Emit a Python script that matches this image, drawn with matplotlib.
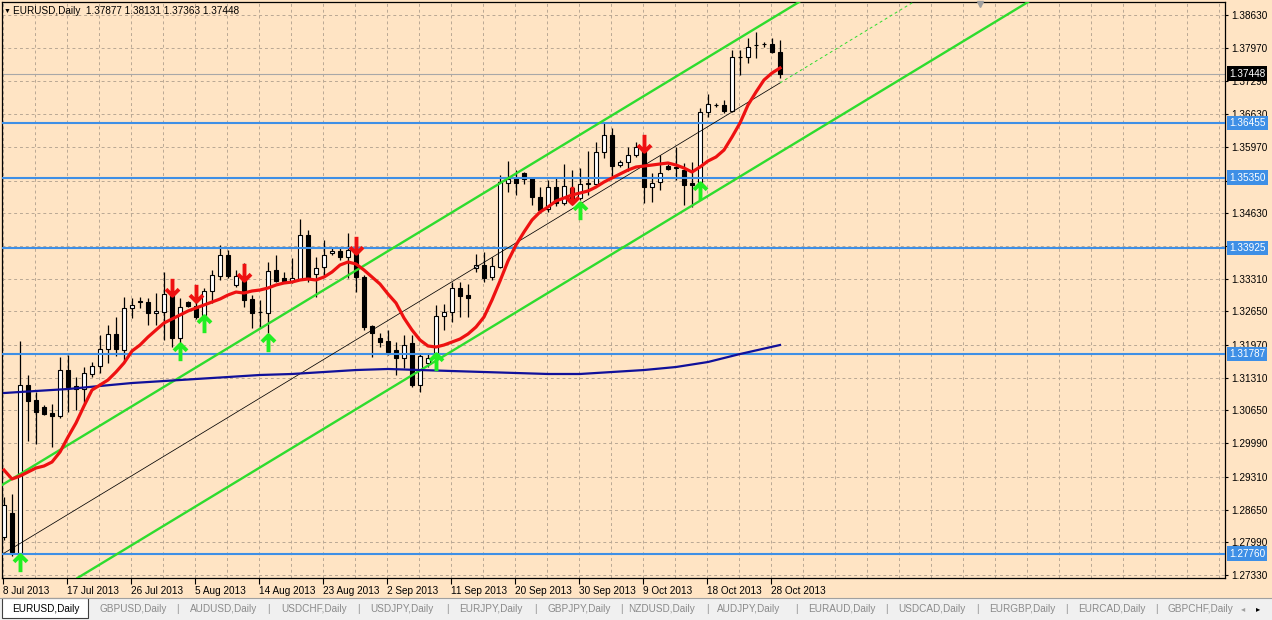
import matplotlib
matplotlib.use('Agg')
import matplotlib.pyplot as plt
import matplotlib.transforms as mtrans
from matplotlib.path import Path
from matplotlib.patches import Rectangle
from matplotlib.lines import Line2D
import numpy as np

plt.rcParams['font.family'] = ['Liberation Sans', 'DejaVu Sans']

# ---------------- data ----------------
symbol = 'EURUSD,Daily'
date_labels = ['8 Jul 2013', '17 Jul 2013', '26 Jul 2013', '5 Aug 2013', '14 Aug 2013',
               '23 Aug 2013', '2 Sep 2013', '11 Sep 2013', '20 Sep 2013', '30 Sep 2013',
               '9 Oct 2013', '18 Oct 2013', '28 Oct 2013']
date_label_bars = [0, 8, 16, 24, 32, 40, 48, 56, 64, 72, 80, 88, 96]

opens = [1.28096, 1.28581, 1.27774, 1.31164, 1.30861, 1.30720, 1.30599, 1.30538, 1.31467, 1.31144,
         1.31083, 1.31386, 1.31547, 1.31890, 1.32193, 1.31870, 1.32718, 1.32839, 1.32839, 1.32617,
         1.32637, 1.32980, 1.32112, 1.32839, 1.32758, 1.32576, 1.33061, 1.33363, 1.33787, 1.33182,
         1.33303, 1.32899, 1.32637, 1.32617, 1.33485, 1.33323, 1.33263, 1.33303, 1.34191, 1.33404,
         1.33545, 1.33828, 1.33868, 1.33747, 1.33888, 1.33343, 1.32354, 1.32112, 1.32052, 1.31870,
         1.31709, 1.32011, 1.31164, 1.31608, 1.31709, 1.32556, 1.32637, 1.33121, 1.32980, 1.33525,
         1.33585, 1.33343, 1.33545, 1.35240, 1.35341, 1.35442, 1.35341, 1.34958, 1.34715, 1.35159,
         1.34836, 1.35139, 1.34937, 1.35220, 1.35220, 1.35866, 1.36209, 1.35603, 1.35664, 1.35805,
         1.35906, 1.35159, 1.35260, 1.35583, 1.35563, 1.35502, 1.35240, 1.35200, 1.36673, 1.36814,
         1.36814, 1.36693, 1.37783, 1.37783, 1.38025, 1.38045, 1.38045, 1.37877]
highs = [1.28904, 1.28964, 1.32052, 1.31365, 1.31022, 1.30760, 1.30780, 1.31729, 1.31769, 1.31325,
         1.31527, 1.31628, 1.32173, 1.32375, 1.32536, 1.32940, 1.32920, 1.32940, 1.32920, 1.33020,
         1.33444, 1.33283, 1.32920, 1.32859, 1.32940, 1.33121, 1.33485, 1.33989, 1.33888, 1.33485,
         1.33626, 1.32980, 1.32879, 1.33646, 1.33787, 1.33444, 1.33727, 1.34514, 1.34292, 1.33747,
         1.34090, 1.33928, 1.33949, 1.34231, 1.34130, 1.33384, 1.32375, 1.32213, 1.32274, 1.32032,
         1.32173, 1.32173, 1.31810, 1.31810, 1.32778, 1.32798, 1.33242, 1.33242, 1.33202, 1.33807,
         1.33848, 1.33747, 1.35402, 1.35684, 1.35502, 1.35462, 1.35361, 1.35159, 1.35301, 1.35341,
         1.35623, 1.35502, 1.35543, 1.35886, 1.36068, 1.36451, 1.36350, 1.35704, 1.35967, 1.36068,
         1.36068, 1.35442, 1.35805, 1.35623, 1.35967, 1.35644, 1.35664, 1.36754, 1.37036, 1.36854,
         1.36915, 1.37924, 1.37924, 1.38166, 1.38287, 1.38085, 1.38166, 1.38131]
lows = [1.28036, 1.27713, 1.27733, 1.30034, 1.29973, 1.30558, 1.29913, 1.30498, 1.30619, 1.30659,
        1.30801, 1.31325, 1.31406, 1.31608, 1.31749, 1.31628, 1.32516, 1.32718, 1.32375, 1.32375,
        1.32072, 1.31931, 1.31991, 1.32738, 1.32496, 1.32516, 1.32819, 1.33283, 1.33323, 1.33141,
        1.32738, 1.32314, 1.32314, 1.32213, 1.33242, 1.33242, 1.33222, 1.33283, 1.33242, 1.32940,
        1.33343, 1.33787, 1.33686, 1.33323, 1.33040, 1.32274, 1.31729, 1.31931, 1.31769, 1.31365,
        1.31507, 1.31124, 1.31022, 1.31527, 1.31608, 1.32274, 1.32435, 1.32536, 1.32536, 1.33444,
        1.33242, 1.33283, 1.33525, 1.35059, 1.34998, 1.35220, 1.34796, 1.34635, 1.34655, 1.34776,
        1.34796, 1.34796, 1.34897, 1.34998, 1.35200, 1.35745, 1.35361, 1.35563, 1.35482, 1.35765,
        1.34836, 1.34857, 1.35099, 1.35502, 1.35301, 1.34796, 1.34756, 1.35159, 1.36572, 1.36774,
        1.36653, 1.36673, 1.37420, 1.37662, 1.37763, 1.37985, 1.37863, 1.37363]
closes = [1.28742, 1.27794, 1.31164, 1.30841, 1.30619, 1.30579, 1.30538, 1.31467, 1.31124, 1.31083,
          1.31406, 1.31547, 1.31890, 1.32193, 1.31890, 1.32718, 1.32778, 1.32859, 1.32617, 1.32657,
          1.33000, 1.32112, 1.32738, 1.32758, 1.32536, 1.33061, 1.33384, 1.33787, 1.33363, 1.33363,
          1.32879, 1.32617, 1.32637, 1.33464, 1.33263, 1.33263, 1.33323, 1.34191, 1.33303, 1.33525,
          1.33787, 1.33868, 1.33747, 1.33888, 1.33343, 1.32334, 1.32213, 1.32032, 1.31830, 1.31709,
          1.31971, 1.31164, 1.31749, 1.31709, 1.32556, 1.32637, 1.33121, 1.32960, 1.32920, 1.33585,
          1.33323, 1.33565, 1.35260, 1.35321, 1.35240, 1.35321, 1.34958, 1.34695, 1.35159, 1.34836,
          1.35180, 1.34897, 1.35220, 1.35240, 1.35866, 1.36209, 1.35583, 1.35664, 1.35805, 1.35967,
          1.35159, 1.35240, 1.35442, 1.35522, 1.35543, 1.35200, 1.35200, 1.36673, 1.36834, 1.36814,
          1.36693, 1.37783, 1.37783, 1.37985, 1.38025, 1.38045, 1.37884, 1.37448]

ma_fast = [1.29448, 1.29267, 1.29327, 1.29408, 1.29489, 1.29529, 1.29610, 1.29812, 1.30114, 1.30397,
           1.30740, 1.31063, 1.31164, 1.31265, 1.31426, 1.31608, 1.31850, 1.31971, 1.32132, 1.32274,
           1.32415, 1.32496, 1.32576, 1.32657, 1.32718, 1.32778, 1.32839, 1.32899, 1.32980, 1.33040,
           1.33020, 1.33061, 1.33081, 1.33121, 1.33182, 1.33222, 1.33242, 1.33283, 1.33303, 1.33283,
           1.33343, 1.33444, 1.33585, 1.33646, 1.33606, 1.33484, 1.33343, 1.33202, 1.33000, 1.32819,
           1.32516, 1.32274, 1.32072, 1.31951, 1.31931, 1.31971, 1.32031, 1.32092, 1.32193, 1.32334,
           1.32536, 1.32879, 1.33262, 1.33666, 1.33989, 1.34251, 1.34493, 1.34655, 1.34756, 1.34877,
           1.34937, 1.34998, 1.35038, 1.35079, 1.35159, 1.35260, 1.35341, 1.35422, 1.35502, 1.35563,
           1.35583, 1.35603, 1.35624, 1.35644, 1.35603, 1.35543, 1.35462, 1.35563, 1.35684, 1.35765,
           1.35906, 1.36168, 1.36451, 1.36814, 1.37076, 1.37319, 1.37460, 1.37561]

ma_slow_bars = [0, 4, 8, 12, 16, 20, 24, 28, 32, 36, 40, 44, 48, 52, 56, 60, 64, 68, 72, 76,
                80, 84, 88, 92, 97]
ma_slow = [1.31002, 1.31043, 1.31083, 1.31144, 1.31204, 1.31244, 1.31285, 1.31325, 1.31366, 1.31386,
           1.31426, 1.31466, 1.31487, 1.31466, 1.31446, 1.31426, 1.31406, 1.31386, 1.31386, 1.31426,
           1.31466, 1.31527, 1.31628, 1.31789, 1.31971]

levels = [1.36455, 1.35350, 1.33925, 1.31787, 1.27760]
bid = 1.37448

channel_bars = [0, 97]
channel_mid = [1.2777, 1.3726]
channel_half_width = 0.0140

sell_bars = [21, 24, 30, 44, 71, 80]
sell_prices = [1.33141, 1.33020, 1.33444, 1.33989, 1.35002, 1.36047]
buy_bars = [2, 22, 25, 33, 54, 72, 87]
buy_prices = [1.27572, 1.31830, 1.32395, 1.32011, 1.31628, 1.34675, 1.35079]

y_ticks = [1.38630, 1.37970, 1.37290, 1.36630, 1.35970, 1.35290, 1.34630, 1.33970, 1.33310,
           1.32650, 1.31970, 1.31310, 1.30650, 1.29990, 1.29310, 1.28650, 1.27990, 1.27330]
y_ticks_hidden = [1.35290, 1.33970]

tab_names = ['EURUSD,Daily', 'GBPUSD,Daily', 'AUDUSD,Daily', 'USDCHF,Daily', 'USDJPY,Daily',
             'EURJPY,Daily', 'GBPJPY,Daily', 'NZDUSD,Daily', 'AUDJPY,Daily', 'EURAUD,Daily',
             'USDCAD,Daily', 'EURGBP,Daily', 'EURCAD,Daily', 'GBPCHF,Daily']

# ---------------- styles ----------------
BG = '#FFE4C4'
GRID = '#B9A894'
LEVEL = '#3E8FE6'
LIME = '#2EDC2E'
RED = '#EE1111'
NAVY = '#10109A'
FS = 7.2

W, H = 1272, 620
fig = plt.figure(figsize=(W / 100, H / 100), dpi=100, facecolor=BG)
ax = fig.add_axes([2 / W, 1 - 578 / H, 1223 / W, 576 / H])
ax.set_facecolor(BG)
ax.set_xlim(-0.25, 152.625)
ax.set_ylim(1.27269, 1.38893)
for s in ax.spines.values():
    s.set_color('black')
    s.set_linewidth(0.9)

# grid
grid_off = -0.125
for gx in np.arange(0, 153, 4):
    ax.axvline(gx + grid_off, color=GRID, lw=0.7, ls=(0, (3, 3)), zorder=1)
for gy in y_ticks:
    ax.axhline(gy, color=GRID, lw=0.7, ls=(0, (3, 3)), zorder=1)

# candles
xb = np.arange(len(opens))
o = np.array(opens); c = np.array(closes)
hi = np.array(highs); lo = np.array(lows)
up = c >= o
ax.vlines(xb, lo, hi, color='black', lw=0.9, zorder=3)
ax.bar(xb[up], (c - o)[up], bottom=o[up], width=0.62, color='white', edgecolor='black', lw=0.8, zorder=4)
ax.bar(xb[~up], (o - c)[~up], bottom=c[~up], width=0.62, color='black', edgecolor='black', lw=0.8, zorder=4)

# bid line
ax.axhline(bid, color='#A8A8A8', lw=0.8, zorder=2)

# horizontal levels
for lv in levels:
    ax.axhline(lv, color=LEVEL, lw=1.5, zorder=5)

# regression channel
slope = (channel_mid[1] - channel_mid[0]) / (channel_bars[1] - channel_bars[0])
for off in (channel_half_width, -channel_half_width):
    ax.axline((channel_bars[0], channel_mid[0] + off), slope=slope, color=LIME, lw=1.7, zorder=5)
ax.plot(channel_bars, channel_mid, color='black', lw=0.55, zorder=5)
ext_x = [channel_bars[1], channel_bars[1] + 60]
ax.plot(ext_x, [channel_mid[1], channel_mid[1] + slope * 60], color=LIME, lw=0.7,
        ls=(0, (3, 3)), zorder=5)

# moving averages
ax.plot(ma_slow_bars, ma_slow, color=NAVY, lw=1.6, zorder=6)
ax.plot(xb, ma_fast, color=RED, lw=2.3, zorder=6, solid_joinstyle='round')

# arrows
up_path = Path([(0, -1), (0, 0.95), (-0.75, 0.2), (0, 0.95), (0.75, 0.2)],
               [Path.MOVETO, Path.LINETO, Path.MOVETO, Path.LINETO, Path.LINETO])
dn_path = Path([(0, 1), (0, -0.95), (-0.75, -0.2), (0, -0.95), (0.75, -0.2)],
               [Path.MOVETO, Path.LINETO, Path.MOVETO, Path.LINETO, Path.LINETO])
ax.plot(buy_bars, buy_prices, ls='none', marker=up_path, ms=12.5, mfc='none', mec='#22EE22',
        mew=2.8, zorder=7)
ax.plot(sell_bars, sell_prices, ls='none', marker=dn_path, ms=12.5, mfc='none', mec=RED,
        mew=2.8, zorder=7)

# axes ticks
ax.yaxis.tick_right()
ax.set_yticks(y_ticks)
ax.set_yticklabels(['' if v in y_ticks_hidden else f'{v:.5f}' for v in y_ticks])
ax.tick_params(axis='y', direction='out', length=2.5, width=0.8, pad=2, labelsize=FS,
               colors='black')
ax.set_xticks([b + grid_off for b in date_label_bars])
ax.set_xticklabels(date_labels, ha='left')
ax.tick_params(axis='x', direction='out', length=4, width=0.8, pad=1.5, labelsize=FS,
               colors='black')

# right-side price labels
trans = mtrans.blended_transform_factory(ax.transAxes, ax.transData)
for lv in levels:
    ax.text(1 + 4 / 1223, lv, f'{lv:.5f}', transform=trans, color='white', fontsize=FS,
            va='center', ha='left', clip_on=False, zorder=10,
            bbox=dict(boxstyle='square,pad=0.22', fc=LEVEL, ec='none'))
ax.text(1 + 4 / 1223, bid, f'{bid:.5f}', transform=trans, color='white', fontsize=FS,
        va='center', ha='left', clip_on=False, zorder=10,
        bbox=dict(boxstyle='square,pad=0.22', fc='black', ec='none'))

# chart shift marker
ax.plot([0.8], [0.997], transform=ax.transAxes, marker='v', ms=5, color='#A0A0A0',
        clip_on=False, zorder=8)

# title
fig.text(4 / W, 1 - 11 / H, '\u25bc', fontsize=5, va='center', ha='left', color='black')
title = f'{symbol}  {opens[-1]:.5f} {highs[-1]:.5f} {lows[-1]:.5f} {closes[-1]:.5f}'
fig.text(13 / W, 1 - 11 / H, title, fontsize=FS, va='center', ha='left', color='black')

# tab bar
fig.patches.append(Rectangle((0, 0), 1, 22 / H, transform=fig.transFigure,
                             facecolor='#F0F0F0', edgecolor='none', zorder=0))
fig.lines.append(Line2D([0, 1], [22 / H, 22 / H], transform=fig.transFigure,
                        color='#A0A0A0', lw=0.8))
fig.patches.append(Rectangle((2 / W, 2 / H), 86 / W, 20 / H, transform=fig.transFigure,
                             facecolor='white', edgecolor='#404040', lw=0.8, zorder=1))
tab_x = [12, 100, 190, 281, 370, 459, 547, 628, 717, 808, 898, 989, 1078, 1167]
sep_x = [177, 268, 358, 447, 535, 621, 707, 796, 886, 977, 1066, 1156]
for name, tx in zip(tab_names, tab_x):
    fig.text(tx / W, 11 / H, name, fontsize=FS, va='center', ha='left',
             color='black' if name == symbol else '#8A8A8A')
for sx in sep_x:
    fig.text(sx / W, 11 / H, '|', fontsize=FS, va='center', ha='center', color='#8A8A8A')
fig.text(1243 / W, 10 / H, '\u25c2', fontsize=6, va='center', ha='center', color='#A0A0A0')
fig.text(1258 / W, 10 / H, '\u25b8', fontsize=6, va='center', ha='center', color='black')

fig.savefig('out.png', dpi=100, facecolor=BG)
